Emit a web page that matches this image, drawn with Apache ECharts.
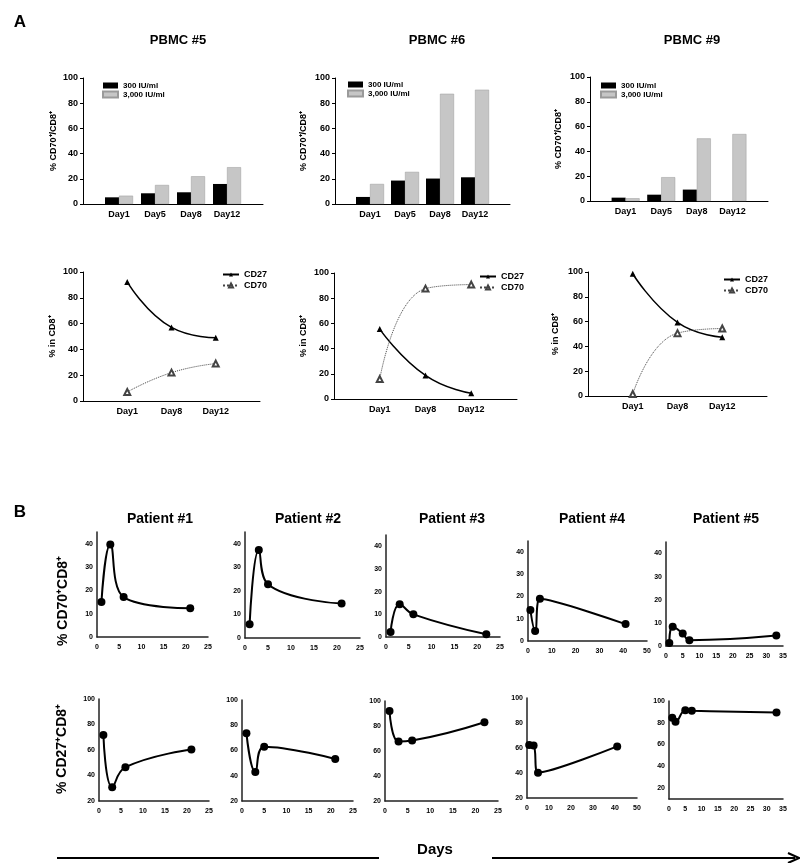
<!DOCTYPE html>
<html>
<head>
<meta charset="utf-8">
<script src="https://cdn.jsdelivr.net/npm/echarts@6/dist/echarts.min.js"></script>
<style>
  html, body { margin: 0; padding: 0; background: #fff; }
  #chart { width: 800px; height: 863px; }
</style>
</head>
<body>
<div id="chart"></div>
<script>
// ---- data ----
// A, top row: % CD70+/CD8+ by IL-2 dose
const barDays = ['Day1', 'Day5', 'Day8', 'Day12']
const pbmc5Low = [5.3, 8.5, 9.3, 15.9]
const pbmc5High = [6.6, 15.1, 22, 29.2]
const pbmc6Low = [5.6, 18.6, 20.2, 21.2]
const pbmc6High = [15.9, 25.5, 87.5, 90.7]
const pbmc9Low = [2.7, 5.1, 9.2, null]
const pbmc9High = [2.2, 19.2, 50.5, 54]

// A, bottom row: % in CD8+
const lineDays = ['Day1', 'Day8', 'Day12']
const pbmc5CD27 = [92.3, 57, 49]
const pbmc5CD70 = [7, 22, 29]
const pbmc6CD27 = [55.5, 18.7, 4.5]
const pbmc6CD70 = [15.8, 87.6, 90.8]
const pbmc9CD27 = [98.6, 59.3, 47.4]
const pbmc9CD70 = [1.6, 50.7, 54.4]

// B: patients, days after start
const p1Days = [1, 3, 6, 21]
const p1CD70 = [15, 39.6, 17.1, 12.3]
const p1CD27 = [71.7, 30.8, 46.5, 60.4]
const p2Days = [1, 3, 5, 21]
const p2CD70 = [5.8, 37.4, 22.8, 14.6]
const p2CD27 = [73.6, 43, 63, 53.3]
const p3Days = [1, 3, 6, 22]
const p3CD70 = [2.2, 14.4, 10, 1.2]
const p3CD27 = [92, 67.6, 68.4, 83]
const p4Days = [1, 3, 5, 41]
const p4CD70 = [14, 4.5, 19, 7.6]
const p4CD27 = [62.5, 62, 40.3, 61.3]
const p5Days = [1, 2, 5, 7, 33]
const p5CD70 = [1.3, 8.3, 5.4, 2.5, 4.5]
const p5CD27 = [84.6, 81, 91.6, 91, 89.5]

const NARROW = '"Liberation Sans Narrow", "Liberation Sans", Arial, sans-serif'
const SANS = '"Liberation Sans", Arial, sans-serif'

const chart = echarts.init(document.getElementById('chart'))
const option = {
  animation: false,
  backgroundColor: '#fff',
  grid: [],
  xAxis: [],
  yAxis: [],
  legend: [],
  series: [],
  graphic: []
}

function addGrid(box) {
  option.grid.push({ left: box[0], top: box[1], width: box[2], height: box[3] })
  return option.grid.length - 1
}

function smallLabel(font, size) {
  return { color: '#000', fontWeight: 'bold', fontSize: size, fontFamily: font }
}

// bar panel in A
function addBarPanel(box, low, high, legendPos, nameGap) {
  const i = addGrid(box)
  option.xAxis.push({
    gridIndex: i,
    type: 'category',
    boundaryGap: false,
    data: ['', ...barDays, ''],
    axisLine: { lineStyle: { color: '#000', width: 1 } },
    axisTick: { show: false },
    axisLabel: Object.assign({ interval: 0, margin: 6 }, smallLabel(NARROW, 9))
  })
  option.yAxis.push({
    gridIndex: i,
    type: 'value',
    min: 0,
    max: 100,
    interval: 20,
    name: '% CD70⁺/CD8⁺',
    nameLocation: 'middle',
    nameGap: nameGap,
    nameTextStyle: smallLabel(NARROW, 9),
    axisLine: { show: true, lineStyle: { color: '#000', width: 1 } },
    axisTick: { show: true, length: 3, lineStyle: { color: '#000' } },
    splitLine: { show: false },
    axisLabel: Object.assign({ margin: 5 }, smallLabel(NARROW, 9))
  })
  option.series.push({
    type: 'bar',
    name: '300 IU/ml',
    xAxisIndex: i,
    yAxisIndex: i,
    barWidth: 14,
    barGap: '0%',
    itemStyle: { color: '#000' },
    data: barDays.map((d, k) => [d, low[k]])
  })
  option.series.push({
    type: 'bar',
    name: '3,000 IU/ml',
    xAxisIndex: i,
    yAxisIndex: i,
    barWidth: 14,
    barGap: '0%',
    itemStyle: { color: '#c6c6c6', borderColor: '#9a9a9a', borderWidth: 0.5 },
    data: barDays.map((d, k) => [d, high[k]])
  })
  option.legend.push({
    left: legendPos[0],
    top: legendPos[1],
    orient: 'vertical',
    itemWidth: 15,
    itemHeight: 6,
    itemGap: 0,
    icon: 'rect',
    padding: 0,
    data: ['300 IU/ml', '3,000 IU/ml'],
    textStyle: Object.assign({ lineHeight: 9 }, smallLabel(NARROW, 8))
  })
}

// line panel in A
function addMarkerPanel(box, cd27, cd70, legendPos, nameGap) {
  const i = addGrid(box)
  option.xAxis.push({
    gridIndex: i,
    type: 'category',
    boundaryGap: false,
    data: ['', ...lineDays, ''],
    axisLine: { lineStyle: { color: '#000', width: 1 } },
    axisTick: { show: false },
    axisLabel: Object.assign({ interval: 0, margin: 6 }, smallLabel(NARROW, 9))
  })
  option.yAxis.push({
    gridIndex: i,
    type: 'value',
    min: 0,
    max: 100,
    interval: 20,
    name: '% in CD8⁺',
    nameLocation: 'middle',
    nameGap: nameGap,
    nameTextStyle: smallLabel(NARROW, 9),
    axisLine: { show: true, lineStyle: { color: '#000', width: 1 } },
    axisTick: { show: true, length: 3, lineStyle: { color: '#000' } },
    splitLine: { show: false },
    axisLabel: Object.assign({ margin: 5 }, smallLabel(NARROW, 9))
  })
  option.series.push({
    type: 'line',
    name: 'CD27',
    xAxisIndex: i,
    yAxisIndex: i,
    smooth: 0.5,
    symbol: 'triangle',
    symbolSize: 6,
    lineStyle: { color: '#000', width: 1.5 },
    itemStyle: { color: '#000' },
    data: lineDays.map((d, k) => [d, cd27[k]])
  })
  option.series.push({
    type: 'line',
    name: 'CD70',
    xAxisIndex: i,
    yAxisIndex: i,
    smooth: 0.5,
    symbol: 'emptyTriangle',
    symbolSize: 6,
    lineStyle: { color: '#444', width: 1, type: 'dotted' },
    itemStyle: { color: '#444', borderColor: '#444', borderWidth: 0.6 },
    data: lineDays.map((d, k) => [d, cd70[k]])
  })
  option.legend.push({
    left: legendPos[0],
    top: legendPos[1],
    orient: 'vertical',
    itemWidth: 16,
    itemHeight: 5,
    itemGap: 2,
    padding: 0,
    data: ['CD27', 'CD70'],
    textStyle: Object.assign({ lineHeight: 9 }, smallLabel(NARROW, 9))
  })
}

// patient panel in B
function addPatientPanel(box, days, vals, xMax, xStep, yMin, yMax, yStep, labelEvery) {
  const i = addGrid(box)
  const firstLabel = Math.ceil(yMin / labelEvery) * labelEvery
  option.xAxis.push({
    gridIndex: i,
    type: 'value',
    min: 0,
    max: xMax,
    interval: xStep,
    axisLine: { show: true, lineStyle: { color: '#222', width: 1.5 } },
    axisTick: { show: false },
    splitLine: { show: false },
    axisLabel: Object.assign({ margin: 7 }, smallLabel(SANS, 7))
  })
  option.yAxis.push({
    gridIndex: i,
    type: 'value',
    min: yMin,
    max: yMax,
    interval: yStep,
    axisLine: { show: true, lineStyle: { color: '#222', width: 1.5 } },
    axisTick: { show: false },
    splitLine: { show: false },
    axisLabel: Object.assign({
      margin: 4,
      formatter: v => (v % labelEvery === 0 && v >= firstLabel) ? String(v) : ''
    }, smallLabel(SANS, 7))
  })
  option.series.push({
    type: 'line',
    xAxisIndex: i,
    yAxisIndex: i,
    smooth: 0.45,
    symbol: 'circle',
    symbolSize: 8,
    lineStyle: { color: '#000', width: 2 },
    itemStyle: { color: '#000' },
    data: days.map((d, k) => [d, vals[k]])
  })
}

// ---- A ----
addBarPanel([83, 78, 180, 126], pbmc5Low, pbmc5High, [102, 81], 25)
addBarPanel([335, 78, 175, 126], pbmc6Low, pbmc6High, [347, 80], 27)
addBarPanel([590, 77, 178, 124], pbmc9Low, pbmc9High, [600, 81], 27)

addMarkerPanel([83, 272, 177, 129], pbmc5CD27, pbmc5CD70, [222, 270], 26)
addMarkerPanel([334, 273, 183, 126], pbmc6CD27, pbmc6CD70, [479, 272], 26)
addMarkerPanel([588, 272, 179, 124], pbmc9CD27, pbmc9CD70, [723, 275], 28)

// ---- B ----
addPatientPanel([97, 532, 111, 105], p1Days, p1CD70, 25, 5, 0, 45, 5, 10)
addPatientPanel([245, 532, 115, 106], p2Days, p2CD70, 25, 5, 0, 45, 5, 10)
addPatientPanel([386, 535, 114, 102], p3Days, p3CD70, 25, 5, 0, 45, 5, 10)
addPatientPanel([528, 541, 119, 100], p4Days, p4CD70, 50, 10, 0, 45, 5, 10)
addPatientPanel([666, 542, 117, 104], p5Days, p5CD70, 35, 5, 0, 45, 5, 10)

addPatientPanel([99, 699, 110, 102], p1Days, p1CD27, 25, 5, 20, 100, 20, 20)
addPatientPanel([242, 700, 111, 101], p2Days, p2CD27, 25, 5, 20, 100, 20, 20)
addPatientPanel([385, 701, 113, 100], p3Days, p3CD27, 25, 5, 20, 100, 20, 20)
addPatientPanel([527, 698, 110, 100], p4Days, p4CD27, 50, 10, 20, 100, 20, 20)
addPatientPanel([669, 701, 114, 98], p5Days, p5CD27, 35, 5, 10, 100, 10, 20)

// ---- texts and the Days arrow ----
function addText(text, x, y, font, rotation) {
  option.graphic.push({
    type: 'text',
    x: x,
    y: y,
    rotation: rotation || 0,
    style: { text: text, font: font, fill: '#000', align: 'center', verticalAlign: 'middle' }
  })
}
addText('A', 20, 22, 'bold 17px ' + SANS)
addText('PBMC #5', 178, 40, 'bold 13px ' + NARROW)
addText('PBMC #6', 437, 40, 'bold 13px ' + NARROW)
addText('PBMC #9', 692, 40, 'bold 13px ' + NARROW)

addText('B', 20, 512, 'bold 17px ' + SANS)
addText('Patient #1', 160, 519, 'bold 14px ' + SANS)
addText('Patient #2', 308, 519, 'bold 14px ' + SANS)
addText('Patient #3', 452, 519, 'bold 14px ' + SANS)
addText('Patient #4', 592, 519, 'bold 14px ' + SANS)
addText('Patient #5', 726, 519, 'bold 14px ' + SANS)

addText('% CD70⁺CD8⁺', 63, 601, 'bold 14px ' + SANS, Math.PI / 2)
addText('% CD27⁺CD8⁺', 62, 749, 'bold 14px ' + SANS, Math.PI / 2)

addText('Days', 435, 850, 'bold 15px ' + SANS)
option.graphic.push({
  type: 'line',
  shape: { x1: 57, y1: 858, x2: 379, y2: 858 },
  style: { stroke: '#000', lineWidth: 2 }
})
option.graphic.push({
  type: 'line',
  shape: { x1: 492, y1: 858, x2: 795, y2: 858 },
  style: { stroke: '#000', lineWidth: 2 }
})
option.graphic.push({
  type: 'polyline',
  shape: { points: [[788, 853], [799, 858], [788, 863]] },
  style: { stroke: '#000', lineWidth: 2, fill: null }
})

chart.setOption(option)
</script>
</body>
</html>
